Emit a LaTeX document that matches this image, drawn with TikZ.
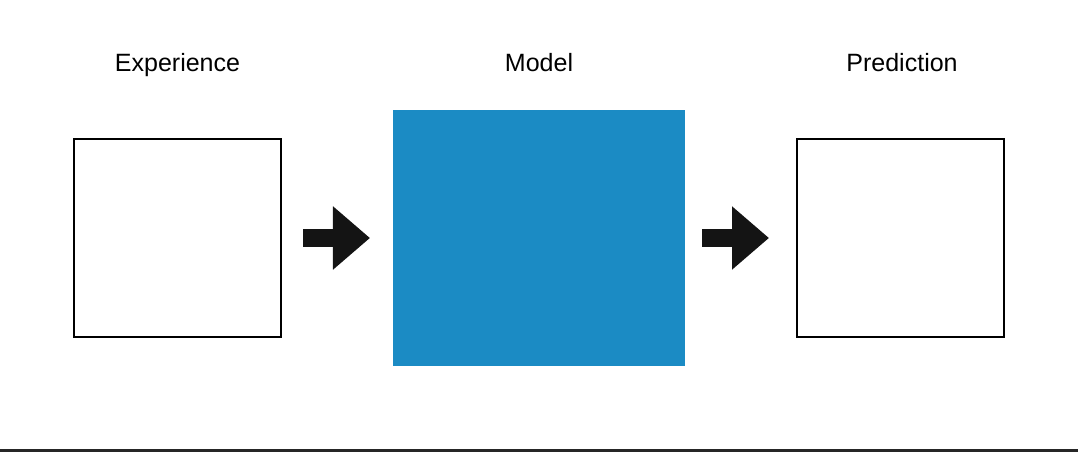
\documentclass[tikz,border=0pt]{standalone}
\usepackage{fontspec}
\setmainfont{Liberation Sans}
\usetikzlibrary{arrows.meta,positioning}
\definecolor{modelblue}{HTML}{1B8BC4}
\tikzset{
  stage/.style={
    draw = black,
    line width = 1.4pt,
    fill = white,
    minimum width = 5.15cm,
    minimum height = 4.95cm,
    inner sep = 0pt
  },
  modelbox/.style={
    fill = modelblue,
    minimum width = 7.3cm,
    minimum height = 6.4cm,
    inner sep = 0pt
  },
  caption/.style={
    anchor = base,
    font = \fontsize{17.8}{20}\selectfont,
    inner sep = 0pt
  },
  flow/.style={
    draw = black!92,
    line width = 0.425cm,
    -{Triangle[length=0.925cm,width=1.525cm]}
  }
}
\begin{document}
\begin{tikzpicture}[x=0.025cm,y=-0.025cm]
    \useasboundingbox (0,0) rectangle (1078,452);
    \node[stage] (exp) at (177.5,238) {};
    \node[modelbox] (model) at (539,238) {};
    \node[stage] (pred) at (900.5,238) {};
    \node[caption] (explabel) at (177.5,71.5) {Experience};
    \node[caption] (modellabel) at (539,71.5) {Model};
    \node[caption] (predlabel) at (902,71.5) {Prediction};
    % block arrows between the stages
    \coordinate (a1s) at (303,238);
    \coordinate (a1e) at (370,238);
    \coordinate (a2s) at (702,238);
    \coordinate (a2e) at (769,238);
    \draw[flow] (a1s) -- (a1e);
    \draw[flow] (a2s) -- (a2e);
    % rule at the bottom
    \coordinate (rl) at (0,450.5);
    \coordinate (rr) at (1078,450.5);
    \draw[line width=2.2pt, draw=black!85] (rl) -- (rr);
\end{tikzpicture}
\end{document}
